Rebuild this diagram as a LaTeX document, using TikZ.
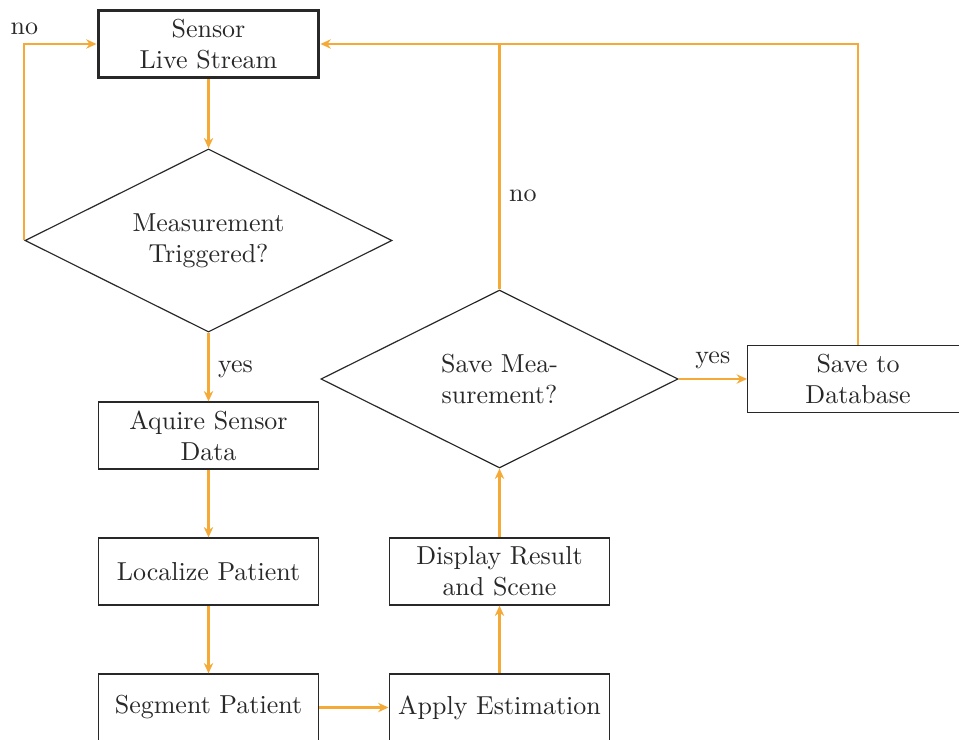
\documentclass[tikz,border=0pt]{standalone}
\usetikzlibrary{shapes.geometric,arrows.meta}
\definecolor{flow}{RGB}{245,170,55}
\definecolor{edge}{RGB}{40,40,40}
\begin{document}
\begin{tikzpicture}[x=0.385pt,y=-0.385pt,
  box/.style={draw=edge,line width=0.45pt,rectangle,minimum width=85pt,minimum height=25.8pt,inner sep=0pt,align=center,text=edge},
  startbox/.style={box,line width=1.2pt},
  decision/.style={draw=edge,line width=0.45pt,diamond,aspect=2,inner sep=0pt,align=center,text=edge},
  flowline/.style={draw=flow,line width=0.8pt},
  flowarrow/.style={flowline,-{Stealth[length=4pt,width=3.6pt]}},
  lbl/.style={text=edge}]
\useasboundingbox (0,0) rectangle (959,740);
\node[startbox] (sensor) at (208.5,44) {Sensor\\Live Stream};
\node[decision,minimum width=141.3pt,minimum height=70.5pt] (d1) at (208.5,240.5) {Measurement\\Triggered?};
\node[box] (acq) at (208.5,435.5) {Aquire Sensor\\Data};
\node[box] (loc) at (208.5,571.5) {Localize Patient};
\node[box] (seg) at (208.5,707.5) {Segment Patient};
\node[box] (app) at (499.5,707.5) {Apply Estimation};
\node[box] (disp) at (499.5,571.5) {Display Result\\and Scene};
\node[decision,minimum width=137.5pt,minimum height=68.5pt] (d2) at (499.5,379) {Save Mea-\\surement?};
\node[box] (db) at (858,379) {Save to\\Database};
\coordinate (j) at (499.5,44);
\draw[flowarrow] (sensor.south) -- (d1.north);
\draw[flowarrow] (d1.south) -- node[lbl,right,pos=0.53] {yes} (acq.north);
\draw[flowarrow] (d1.west) |- node[lbl,pos=0.5,above] {no} (sensor.west);
\draw[flowarrow] (acq.south) -- (loc.north);
\draw[flowarrow] (loc.south) -- (seg.north);
\draw[flowarrow] (seg.east) -- (app.west);
\draw[flowarrow] (app.north) -- (disp.south);
\draw[flowarrow] (disp.north) -- (d2.south);
\draw[flowarrow] (d2.east) -- node[lbl,above] {yes} (db.west);
\draw[flowarrow] (d2.north) |- node[lbl,right,pos=0.19] {no} (sensor.east);
\draw[flowline] (db.north) |- (j);
\end{tikzpicture}
\end{document}
